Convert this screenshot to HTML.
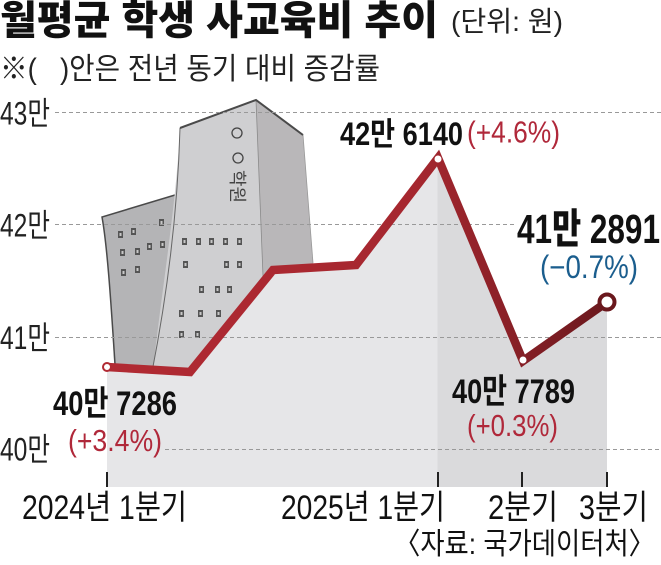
<!DOCTYPE html>
<html>
<head>
<meta charset="utf-8">
<style>
  html,body{margin:0;padding:0;background:#fff;}
  svg{display:block;}
  text{font-family:"Liberation Sans","Noto Sans CJK KR",sans-serif;}
</style>
</head>
<body>
<svg width="661" height="565" viewBox="0 0 661 565" xmlns="http://www.w3.org/2000/svg">
  <defs>
    <linearGradient id="lineGrad" gradientUnits="userSpaceOnUse" x1="107" y1="0" x2="607" y2="0">
      <stop offset="0" stop-color="#b12a33"/>
      <stop offset="0.62" stop-color="#a5272f"/>
      <stop offset="0.8" stop-color="#8a2027"/>
      <stop offset="1" stop-color="#6a181d"/>
    </linearGradient>
    <linearGradient id="areaGrad" gradientUnits="userSpaceOnUse" x1="107" y1="0" x2="607" y2="0">
      <stop offset="0" stop-color="#e6e6e8"/>
      <stop offset="0.661" stop-color="#e6e6e8"/>
      <stop offset="0.661" stop-color="#dadadc"/>
      <stop offset="1" stop-color="#dadadc"/>
    </linearGradient>
  </defs>

  <!-- Title -->
  <text x="0" y="34" font-size="40" font-weight="900" fill="#111" textLength="438" lengthAdjust="spacingAndGlyphs">월평균 학생 사교육비 추이</text>
  <text x="451" y="31" font-size="28" fill="#222" textLength="112" lengthAdjust="spacingAndGlyphs">(단위: 원)</text>
  <text x="0" y="79" font-size="30" fill="#222" textLength="380" lengthAdjust="spacingAndGlyphs">※(&#160;&#160;&#160;)안은 전년 동기 대비 증감률</text>

  <!-- Y labels -->
  <text x="0" y="124.5" font-size="32" fill="#222" textLength="50" lengthAdjust="spacingAndGlyphs">43만</text>
  <text x="0" y="236.5" font-size="32" fill="#222" textLength="50" lengthAdjust="spacingAndGlyphs">42만</text>
  <text x="0" y="349" font-size="32" fill="#222" textLength="50" lengthAdjust="spacingAndGlyphs">41만</text>
  <text x="0" y="460.5" font-size="32" fill="#222" textLength="50" lengthAdjust="spacingAndGlyphs">40만</text>

  <!-- Building illustration -->
  <!-- left building -->
  <path d="M102,217 L175,195 L170,250 L163,300 L152,380 L115,380 C112,320 108,250 102,217 Z" fill="#b4b4b6"/>
  <path d="M115,364 C112,320 108,250 102,217 L175,195" fill="none" stroke="#4a4a4a" stroke-width="1.5"/>
  <!-- tall building right face -->
  <path d="M256,100 L303,135 L313,263 L318,275 L263,280 Z" fill="#b9b7b9"/>
  <!-- tall building front face -->
  <path d="M180,128 L256,100 L263,276 L275,282 L195,380 L152,380 C160,300 176,210 180,128 Z" fill="#cfcfd1"/>
  <path d="M180,128 C178,200 170,280 152,372" fill="none" stroke="#666" stroke-width="1"/>
  <path d="M256,100 L263,276" fill="none" stroke="#8a8a8a" stroke-width="0.8"/>
  <path d="M303,135 L313,263" fill="none" stroke="#999" stroke-width="0.8"/>
  <path d="M180,128 L256,100 L303,135" fill="none" stroke="#4a4a4a" stroke-width="2"/>
  <!-- sign -->
  <circle cx="237" cy="133" r="5" fill="none" stroke="#444" stroke-width="1.3"/>
  <circle cx="238" cy="158" r="5" fill="none" stroke="#444" stroke-width="1.3"/>
  <text transform="translate(231,170) rotate(90)" font-size="18" fill="#444" font-family="Noto Sans CJK KR, sans-serif">학원</text>
  <!-- windows -->
  <g fill="#555">
    <rect x="118" y="231" width="5" height="7"/><rect x="131" y="228" width="5" height="7"/><rect x="159" y="219" width="5" height="7"/>
    <rect x="120" y="249" width="5" height="7"/><rect x="135" y="248" width="5" height="7"/><rect x="147" y="243" width="5" height="7"/><rect x="160" y="241" width="5" height="7"/>
    <rect x="121" y="269" width="5" height="7"/><rect x="135" y="266" width="5" height="7"/>
    <rect x="182" y="238" width="5" height="7"/><rect x="196" y="238" width="5" height="7"/><rect x="209" y="238" width="5" height="7"/><rect x="223" y="238" width="5" height="7"/><rect x="237" y="238" width="5" height="7"/>
    <rect x="183" y="261" width="5" height="7"/><rect x="224" y="261" width="5" height="7"/><rect x="237" y="261" width="5" height="7"/>
    <rect x="199" y="286" width="5" height="7"/><rect x="215" y="286" width="5" height="7"/><rect x="227" y="286" width="5" height="7"/>
    <rect x="179" y="310" width="5" height="7"/><rect x="198" y="310" width="5" height="7"/><rect x="216" y="310" width="5" height="7"/>
    <rect x="179" y="331" width="5" height="7"/><rect x="195" y="331" width="5" height="7"/>
  </g>
  <g fill="#c8c8c8">
    <rect x="119.5" y="233" width="2" height="3"/><rect x="132.5" y="230" width="2" height="3"/><rect x="160.5" y="221" width="2" height="3"/>
    <rect x="121.5" y="251" width="2" height="3"/><rect x="136.5" y="250" width="2" height="3"/><rect x="148.5" y="245" width="2" height="3"/><rect x="161.5" y="243" width="2" height="3"/>
    <rect x="122.5" y="271" width="2" height="3"/><rect x="136.5" y="268" width="2" height="3"/>
    <rect x="183.5" y="240" width="2" height="3"/><rect x="197.5" y="240" width="2" height="3"/><rect x="210.5" y="240" width="2" height="3"/><rect x="224.5" y="240" width="2" height="3"/><rect x="238.5" y="240" width="2" height="3"/>
    <rect x="184.5" y="263" width="2" height="3"/><rect x="225.5" y="263" width="2" height="3"/><rect x="238.5" y="263" width="2" height="3"/>
    <rect x="200.5" y="288" width="2" height="3"/><rect x="216.5" y="288" width="2" height="3"/><rect x="228.5" y="288" width="2" height="3"/>
    <rect x="180.5" y="312" width="2" height="3"/><rect x="199.5" y="312" width="2" height="3"/><rect x="217.5" y="312" width="2" height="3"/>
    <rect x="180.5" y="333" width="2" height="3"/><rect x="196.5" y="333" width="2" height="3"/>
  </g>

  <!-- Area -->
  <polygon points="107,367 190,372 273,270 356,265 438,158 523,361 607,302 607,487 107,487" fill="url(#areaGrad)"/>
  <!-- white below chart bottom to cover building overflow -->
  <rect x="100" y="487" width="520" height="6" fill="#fff"/>

  <!-- Gridlines -->
  <g stroke="#999" stroke-width="1" stroke-dasharray="4,3" fill="none">
    <line x1="55" y1="112.5" x2="661" y2="112.5"/>
    <line x1="55" y1="224.5" x2="515" y2="224.5"/>
    <line x1="55" y1="337.5" x2="661" y2="337.5"/>
    <line x1="165" y1="449.5" x2="661" y2="449.5"/>
  </g>

  <!-- Ticks -->
  <g stroke="#222" stroke-width="2">
    <line x1="107" y1="472" x2="107" y2="487"/>
    <line x1="438" y1="472" x2="438" y2="487"/>
    <line x1="522" y1="472" x2="522" y2="487"/>
    <line x1="607" y1="472" x2="607" y2="487"/>
  </g>

  <!-- Line -->
  <polyline points="107,367 190,372 273,270 356,265 438,158 523,361 607,302" fill="none" stroke="url(#lineGrad)" stroke-width="8.5" stroke-linejoin="miter" stroke-miterlimit="4"/>
  <circle cx="107" cy="367" r="4" fill="#fff" stroke="#b12a33" stroke-width="2"/>
  <circle cx="438" cy="159" r="3.5" fill="#fff"/>
  <circle cx="523" cy="360" r="3.5" fill="#fff"/>
  <circle cx="607" cy="302" r="7.5" fill="#fff" stroke="#6a181d" stroke-width="4"/>

  <!-- Data labels -->
  <text x="53" y="415" font-size="34" font-weight="bold" fill="#111" textLength="124" lengthAdjust="spacingAndGlyphs">40만 7286</text>
  <text x="68" y="451" font-size="31" fill="#b0283a" textLength="94" lengthAdjust="spacingAndGlyphs">(+3.4%)</text>

  <text x="340" y="145" font-size="32" font-weight="bold" fill="#111" textLength="123" lengthAdjust="spacingAndGlyphs">42만 6140</text>
  <text x="467" y="142.5" font-size="31" fill="#b0283a" textLength="93" lengthAdjust="spacingAndGlyphs">(+4.6%)</text>

  <text x="517" y="243" font-size="41" font-weight="900" fill="#111" textLength="143" lengthAdjust="spacingAndGlyphs">41만 2891</text>
  <text x="540" y="278" font-size="32" fill="#1b5e8e" textLength="98" lengthAdjust="spacingAndGlyphs">(−0.7%)</text>

  <text x="452" y="403" font-size="34" font-weight="bold" fill="#111" textLength="123" lengthAdjust="spacingAndGlyphs">40만 7789</text>
  <text x="467" y="436" font-size="31" fill="#b0283a" textLength="91" lengthAdjust="spacingAndGlyphs">(+0.3%)</text>

  <!-- X labels -->
  <text x="22" y="519" font-size="34" fill="#111" textLength="165" lengthAdjust="spacingAndGlyphs">2024년 1분기</text>
  <text x="281" y="519" font-size="34" fill="#111" textLength="164" lengthAdjust="spacingAndGlyphs">2025년 1분기</text>
  <text x="488" y="519" font-size="34" fill="#111" textLength="70" lengthAdjust="spacingAndGlyphs">2분기</text>
  <text x="579" y="519" font-size="34" fill="#111" textLength="69" lengthAdjust="spacingAndGlyphs">3분기</text>

  <!-- Source -->
  <text x="394" y="554" font-size="30" fill="#111" textLength="261" lengthAdjust="spacingAndGlyphs">〈자료: 국가데이터처〉</text>
</svg>
</body>
</html>
